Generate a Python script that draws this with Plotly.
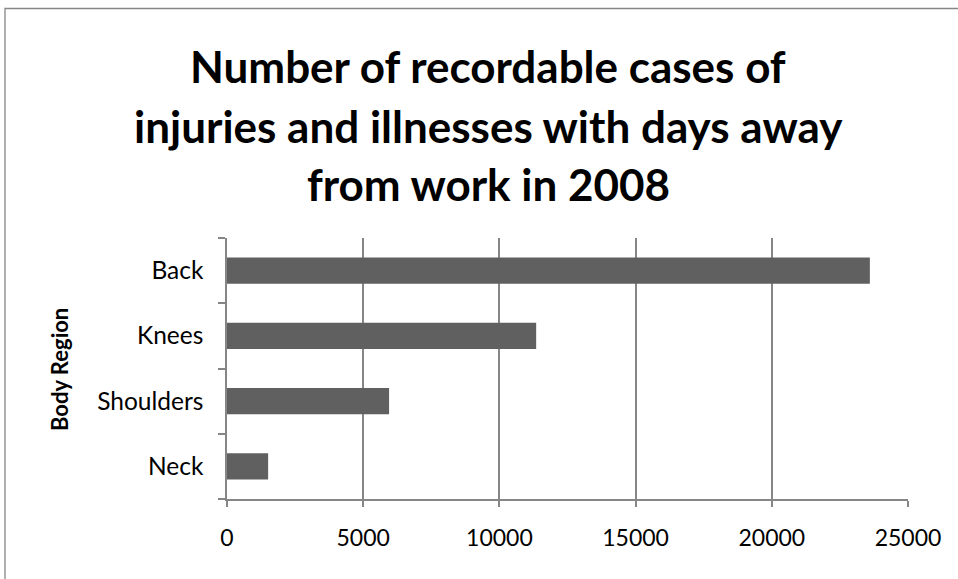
import plotly.graph_objects as go

# Data: recordable cases with days away from work, 2008
regions = ["Neck", "Shoulders", "Knees", "Back"]
cases = [1510, 5950, 11350, 23600]
x_ticks = [0, 5000, 10000, 15000, 20000, 25000]
title_lines = [
    "Number of recordable cases of",
    "injuries and illnesses with days away",
    "from work in 2008",
]

W, H = 958, 579
ML, MR, MT, MB = 227, 50, 238, 80
PW, PH = W - ML - MR, H - MT - MB

def px_x(px):
    return (px - ML) / PW

def px_y(py):
    return (H - MB - py) / PH

GRID = "#868686"
FONT = "Lato, 'Open Sans', sans-serif"

fig = go.Figure(
    go.Bar(
        x=cases,
        y=regions,
        orientation="h",
        marker=dict(color="#606060", line=dict(width=0)),
        hoverinfo="x+y",
    )
)

# title, one annotation per line for Office-style line spacing
title_y = [66, 126, 184]
annotations = [
    dict(
        text=f"<b>{t}</b>",
        x=px_x(488), y=px_y(yy), xref="paper", yref="paper",
        xanchor="center", yanchor="middle", showarrow=False,
        font=dict(family=FONT, size=44, color="#000000"),
    )
    for t, yy in zip(title_lines, title_y)
]
annotations.append(
    dict(
        text="<b>Body Region</b>",
        x=px_x(59), y=px_y(370), xref="paper", yref="paper",
        xanchor="center", yanchor="middle", showarrow=False, textangle=-90,
        font=dict(family=FONT, size=22, color="#000000"),
    )
)

fig.update_layout(
    width=W, height=H,
    margin=dict(l=ML, r=MR, t=MT, b=MB, pad=0),
    paper_bgcolor="white", plot_bgcolor="white",
    bargap=0.6,
    showlegend=False,
    annotations=annotations,
    shapes=[
        dict(
            type="rect", xref="paper", yref="paper",
            x0=px_x(5), x1=px_x(975), y0=px_y(600), y1=px_y(8.5),
            line=dict(color=GRID, width=1.3), fillcolor="rgba(0,0,0,0)",
            layer="below",
        )
    ],
    xaxis=dict(
        range=[0, 25000], tickvals=x_ticks, ticktext=[str(v) for v in x_ticks],
        showgrid=True, gridcolor=GRID, gridwidth=1.5,
        showline=True, linecolor=GRID, linewidth=1.5,
        ticks="outside", ticklen=6, tickcolor=GRID, tickwidth=1.5,
        zeroline=False, ticklabelstandoff=12,
        tickfont=dict(family=FONT, size=23, color="#000000"),
    ),
    yaxis=dict(
        categoryorder="array", categoryarray=regions,
        showgrid=False, showline=True, linecolor=GRID, linewidth=1.5,
        ticks="outside", ticklen=7, tickcolor=GRID, tickwidth=1.5,
        tickson="boundaries", ticklabelstandoff=17,
        tickfont=dict(family=FONT, size=24.5, color="#000000"),
    ),
)

fig.write_html("out.html")
